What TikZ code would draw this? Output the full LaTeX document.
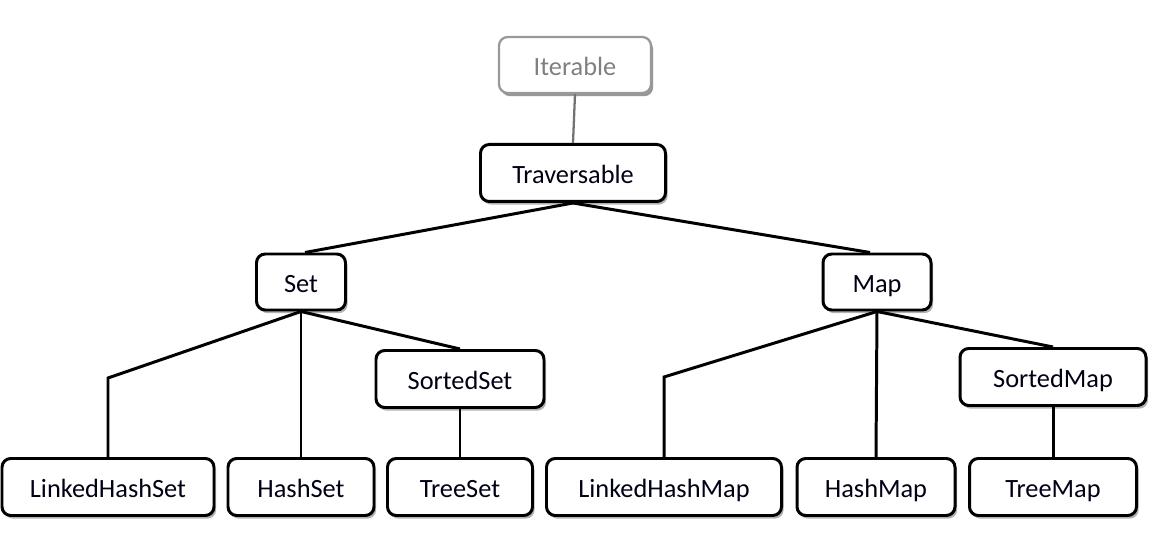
\documentclass[tikz,border=0pt]{standalone}
\usepackage{fontspec}
\setmainfont{Carlito}
\usetikzlibrary{shadows}
\begin{document}
\begin{tikzpicture}[x=0.02cm,y=-0.02cm,
  box/.style={draw=black, fill=white, line width=1.7pt, rounded corners=5pt,
    inner sep=0pt, text height=13pt, text depth=1pt,
    font=\fontsize{15}{18}\selectfont, text=black!92!blue,
    drop shadow={shadow xshift=1.2pt, shadow yshift=-1.8pt, opacity=0.3, fill=black}},
  graybox/.style={box, draw=black!40, text=black!50, line width=1.3pt,
    drop shadow={shadow xshift=1.2pt, shadow yshift=-1.8pt, opacity=0.15, fill=black}},
  link/.style={line width=1.7pt, black},
]
\useasboundingbox (0,0) rectangle (1170,546);
\newcommand{\bx}[6]{\node[#1, minimum width=#4*0.02cm, minimum height=#5*0.02cm] (#2) at (#3) {#6};}
\bx{graybox}{iter}{575,65}{152}{56}{Iterable}
\bx{box}{trav}{573,173}{185}{57}{Traversable}
\bx{box}{set}{301,282}{89}{56}{Set}
\bx{box}{map}{877,282}{108}{56}{Map}
\bx{box}{sset}{460,379}{168}{57}{SortedSet}
\bx{box}{smap}{1053,377}{186}{57}{SortedMap}
\bx{box}{lhs}{108,487}{212}{57}{LinkedHashSet}
\bx{box}{hs}{301,487}{146}{57}{HashSet}
\bx{box}{ts}{460,487}{145}{57}{TreeSet}
\bx{box}{lhm}{664,487}{235}{57}{LinkedHashMap}
\bx{box}{hm}{876,487}{158}{57}{HashMap}
\bx{box}{tm}{1053,487}{167}{57}{TreeMap}
\coordinate (b1) at (108,378);
\coordinate (b2) at (664,377);
\draw[line width=1.3pt, black!55] (iter.south) -- (trav.north);
\draw[link] (trav.south) -- ([xshift=4*0.02cm]set.north);
\draw[link] (trav.south) -- ([xshift=-7*0.02cm]map.north);
\draw[link] (set.south) -- (b1) -- (lhs.north);
\draw[link] (set.south) -- (hs.north);
\draw[link] (set.south) -- (sset.north);
\draw[link] (sset.south) -- (ts.north);
\draw[link] (map.south) -- (b2) -- (lhm.north);
\draw[link] (map.south) -- (hm.north);
\draw[link] (map.south) -- (smap.north);
\draw[link] (smap.south) -- (tm.north);
\end{tikzpicture}
\end{document}
